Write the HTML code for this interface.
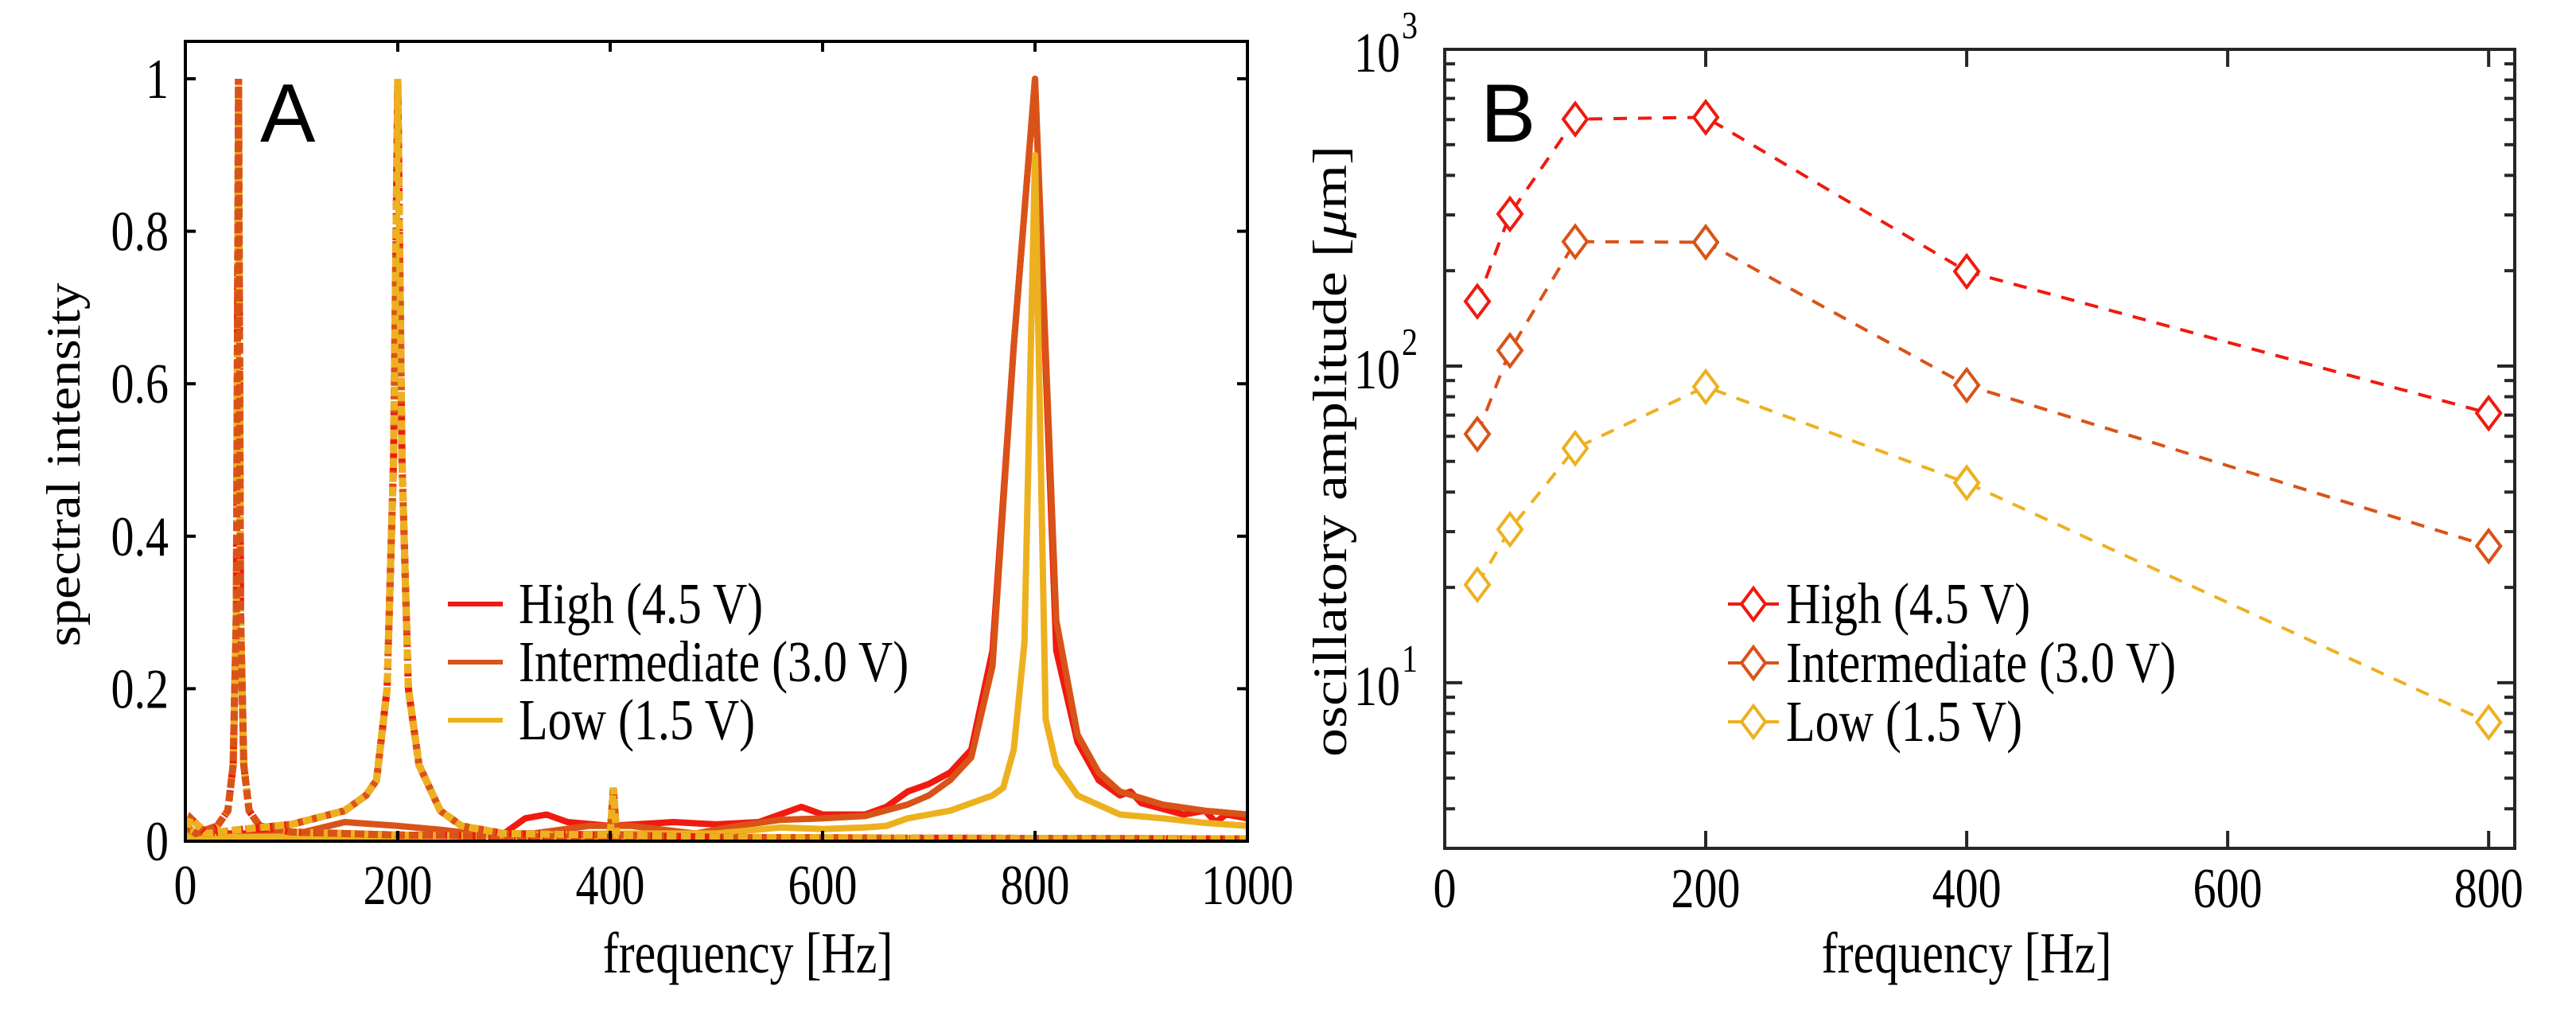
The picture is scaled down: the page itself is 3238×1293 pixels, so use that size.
<!DOCTYPE html>
<html><head><meta charset="utf-8"><style>
html,body{margin:0;padding:0;background:#fff;}
svg{display:block;}
text{font-family:"Liberation Serif",serif;fill:#000;}
.sans{font-family:"Liberation Sans",sans-serif;}
</style></head><body>
<svg id="fig" width="3238" height="1293" viewBox="0 0 3238 1293" xmlns="http://www.w3.org/2000/svg">
<g id="pa"></g>
<g id="pb"></g>
</svg>
<script>
// ---------- Panel A data ----------
const aXTicks = [0, 200, 400, 600, 800, 1000];
const aYTicks = [0, 0.2, 0.4, 0.6, 0.8, 1];
const aYTickLabels = ["0", "0.2", "0.4", "0.6", "0.8", "1"];
const seriesNames = ["High (4.5 V)", "Intermediate (3.0 V)", "Low (1.5 V)"];
const seriesColors = ["#f01a10", "#d95319", "#edb120"];
// 800 Hz excitation spectra (solid)
const highF = [0,100,200,300,320,340,360,400,460,500,540,580,600,640,660,680,700,720,740,760,780,800,820,840,860,880,890,900,940,960,970,980,1000];
const highI = [0.01,0.01,0.008,0.01,0.03,0.035,0.025,0.02,0.025,0.022,0.025,0.045,0.035,0.035,0.045,0.065,0.075,0.09,0.12,0.25,0.65,1,0.25,0.13,0.08,0.06,0.065,0.05,0.035,0.04,0.025,0.035,0.03];
const interF = [0,100,150,200,240,300,380,420,480,520,560,600,640,680,700,720,740,760,780,800,820,840,860,880,920,960,1000];
const interI = [0.005,0.008,0.025,0.02,0.015,0.005,0.02,0.02,0.01,0.02,0.028,0.03,0.033,0.048,0.06,0.08,0.11,0.23,0.65,1,0.29,0.14,0.09,0.065,0.048,0.04,0.035];
const lowF = [0,100,200,300,400,500,560,600,640,660,680,700,720,740,760,770,780,790,800,810,820,840,880,920,960,1000];
const lowI = [0.005,0.006,0.006,0.008,0.01,0.01,0.018,0.016,0.018,0.02,0.03,0.035,0.04,0.05,0.06,0.07,0.12,0.26,0.9,0.16,0.1,0.06,0.035,0.03,0.024,0.02];
// 50 Hz and 200 Hz excitation spectra (dashed)
const p50F = [0,10,20,30,40,45,48,50,52,55,60,70,100,200,400,600,800,1000];
const p50I = [0.02,0.01,0.015,0.02,0.04,0.1,0.3,1,0.3,0.1,0.04,0.02,0.012,0.008,0.005,0.004,0.003,0.003];
const p200F = [0,5,20,50,100,150,170,180,190,196,200,204,210,220,240,260,280,300,400,403,406,500,700,1000];
const p200I = [0.01,0.03,0.01,0.015,0.022,0.04,0.06,0.08,0.2,0.5,1,0.5,0.2,0.1,0.04,0.02,0.015,0.01,0.008,0.07,0.008,0.005,0.004,0.003];

// ---------- Panel B data ----------
const bFreq = [25, 50, 100, 200, 400, 800];
const bHigh = [160, 302, 602, 610, 199, 71];
const bInter = [61, 112, 247, 246, 87, 27];
const bLow = [20.4, 30.5, 55, 86, 42.8, 7.5];
const bXTicks = [0, 200, 400, 600, 800];
const bYDecades = [1, 2, 3];

const NS = "http://www.w3.org/2000/svg";
const SY = 1.22;
function mk(tag, parent, attrs) {
  const e = document.createElementNS(NS, tag);
  for (const k in attrs) e.setAttribute(k, attrs[k]);
  parent.appendChild(e);
  return e;
}
function txt(parent, x, y, str, size, anchor, fill) {
  const t = mk('text', parent, {x:0, y:0, 'font-size':size, 'text-anchor':anchor||'start', fill:fill||'#000', transform:`translate(${x},${y}) scale(1,${SY})`});
  t.textContent = str;
  return t;
}

// ---------- Panel A ----------
const A = {l:233, r:1568, t:52, b:1057, y0:1057, y1:99};
const ax = f => A.l + (f/1000)*(A.r - A.l);
const ay = v => A.y0 + v*(A.y1 - A.y0);
const pa = document.getElementById('pa');

const defs = mk('defs', pa, {});
const cp = mk('clipPath', defs, {id:'clipA'});
mk('rect', cp, {x:A.l, y:A.t, width:A.r-A.l, height:A.b-A.t+6});
const plotA = mk('g', pa, {});


plotA.setAttribute('clip-path','url(#clipA)');

function pathFrom(F, I, sx, sy) {
  return F.map((f,i)=>(i?'L':'M')+sx(f).toFixed(1)+','+sy(I[i]).toFixed(1)).join(' ');
}
const solidSets = [[highF,highI],[interF,interI],[lowF,lowI]];
const solidNames = ['spectrum-high-800hz','spectrum-intermediate-800hz','spectrum-low-800hz'];
solidSets.forEach((s,k)=>{
  const p = mk('path', plotA, {d:pathFrom(s[0],s[1],ax,ay), fill:'none', stroke:seriesColors[k], 'stroke-width':8, 'stroke-linejoin':'round'});
  
  
});
const dashNames = ['high','intermediate','low'];
[[p50F,p50I,'50hz',[0,2,1]],[p200F,p200I,'200hz',[0,1,2]]].forEach(s=>{
  s[3].forEach(k=>{
    const p = mk('path', plotA, {d:pathFrom(s[0],s[1],ax,ay), fill:'none', stroke:seriesColors[k], 'stroke-width':9, 'stroke-dasharray': k==0?'14 6':(k==1?'12 5':'12 6'), 'stroke-dashoffset': k*5});
    
    
  });
});

const frameA = mk('rect', pa, {x:A.l, y:A.t, width:A.r-A.l, height:A.b-A.t, fill:'none', stroke:'#000', 'stroke-width':4});


aXTicks.forEach(t=>{
  const x = ax(t);
  mk('line', pa, {x1:x, x2:x, y1:A.b, y2:A.b-13, stroke:'#000','stroke-width':4});
  mk('line', pa, {x1:x, x2:x, y1:A.t, y2:A.t+13, stroke:'#000','stroke-width':4});
  const tx = txt(pa, x, 1136, String(t), 58, 'middle');
  
  
});
aYTicks.forEach((t,i)=>{
  const y = ay(t);
  mk('line', pa, {x1:A.l, x2:A.l+13, y1:y, y2:y, stroke:'#000','stroke-width':4});
  mk('line', pa, {x1:A.r, x2:A.r-13, y1:y, y2:y, stroke:'#000','stroke-width':4});
  const tx = txt(pa, 212, y+24, aYTickLabels[i], 58, 'end');
  
  
});
const xtA = txt(pa, 940, 1222, 'frequency [Hz]', 60, 'middle');


const ytA = mk('text', pa, {x:0, y:0, 'font-size':60, 'text-anchor':'middle', transform:'translate(100,584) rotate(-90) scale(1.12,1)'});
ytA.textContent = 'spectral intensity';


const lblA = mk('text', pa, {x:327, y:178, 'font-size':104, class:'sans'});
lblA.textContent = 'A';


const legA = mk('g', pa, {});


seriesNames.forEach((n,k)=>{
  const cy = 759 + k*73;
  const g = mk('g', legA, {});
  
  
  mk('line', g, {x1:563, x2:632, y1:cy, y2:cy, stroke:seriesColors[k], 'stroke-width':6});
  txt(g, 652, cy+24, n, 60);
});

// ---------- Panel B ----------
const B = {l:1816, r:3161, t:62, b:1066};
const ymin = Math.log10(3), ymax = 3;
const bx = f => B.l + (f/820)*(B.r - B.l);
const by = v => B.b - (Math.log10(v)-ymin)/(ymax-ymin)*(B.b - B.t);
const pb = document.getElementById('pb');
const AX = '#262626';
const frameB = mk('rect', pb, {x:B.l, y:B.t, width:B.r-B.l, height:B.b-B.t, fill:'none', stroke:AX, 'stroke-width':4});


bXTicks.forEach(t=>{
  const x = bx(t);
  mk('line', pb, {x1:x, x2:x, y1:B.b, y2:B.b-22, stroke:AX,'stroke-width':4});
  mk('line', pb, {x1:x, x2:x, y1:B.t, y2:B.t+22, stroke:AX,'stroke-width':4});
  const tx = txt(pb, x, 1140, String(t), 58, 'middle', '#262626');
  
  
});
for (let d=0; d<=2; d++){
  for (let m=1; m<=9; m++){
    const v = m*Math.pow(10,d);
    if (v<3 || v>1000) continue;
    const y = by(v);
    const L = m==1?22:13;
    mk('line', pb, {x1:B.l, x2:B.l+L, y1:y, y2:y, stroke:AX,'stroke-width':4});
    mk('line', pb, {x1:B.r, x2:B.r-L, y1:y, y2:y, stroke:AX,'stroke-width':4});
  }
}
bYDecades.forEach(d=>{
  const y = by(Math.pow(10,d));
  const tx = txt(pb, 1760, y+28, '10', 58, 'end', '#262626');
  
  
  txt(pb, 1762, y-14, String(d), 40, 'start', '#262626');
});
const xtB = txt(pb, 2472, 1222, 'frequency [Hz]', 60, 'middle', '#262626');


const ytB = mk('text', pb, {x:0, y:0, 'font-size':60, 'text-anchor':'middle', fill:'#262626', transform:'translate(1692,567) rotate(-90) scale(1.2,1)'});
ytB.innerHTML = 'oscillatory amplitude [<tspan font-style="italic">μ</tspan>m]';


const lblB = mk('text', pb, {x:1861, y:178, 'font-size':104, class:'sans'});
lblB.textContent = 'B';



function diamond(g, x, y, c){
  return mk('path', g, {d:`M${x},${y-20} L${x+15},${y} L${x},${y+20} L${x-15},${y} Z`, fill:'#fff', stroke:c, 'stroke-width':4});
}
[bHigh,bInter,bLow].forEach((vals,k)=>{
  const g = mk('g', pb, {});
  
  
  const ln = mk('path', g, {d:pathFrom(bFreq, vals, bx, by), fill:'none', stroke:seriesColors[k], 'stroke-width':4, 'stroke-dasharray':'17 14'});
  
  
  bFreq.forEach((f,i)=>{
    const m = diamond(g, bx(f), by(vals[i]), seriesColors[k]);
    
    
  });
});
const legB = mk('g', pb, {});


seriesNames.forEach((n,k)=>{
  const cy = 759 + k*74;
  const g = mk('g', legB, {});
  
  
  mk('line', g, {x1:2172, x2:2236, y1:cy, y2:cy, stroke:seriesColors[k], 'stroke-width':4});
  diamond(g, 2204, cy, seriesColors[k]);
  txt(g, 2245, cy+24, n, 60);
});
</script>
</body></html>
